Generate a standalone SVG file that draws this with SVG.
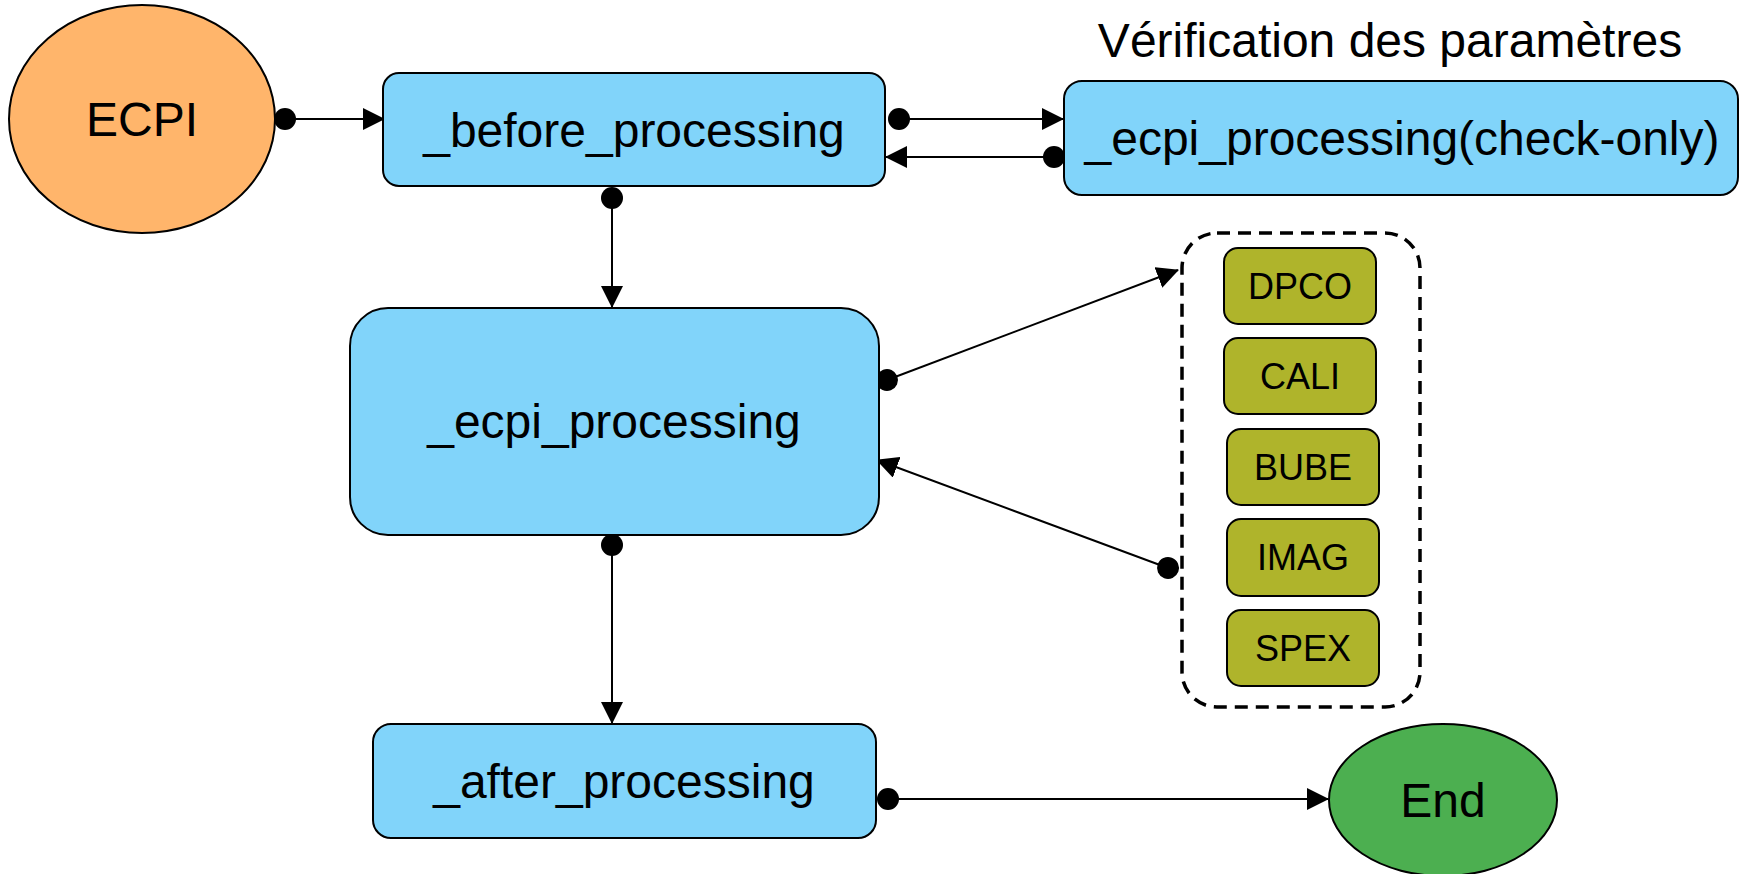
<svg xmlns="http://www.w3.org/2000/svg" width="1739" height="874" viewBox="0 0 1739 874">
  <style>
    text { font-family: "Liberation Sans", Arial, sans-serif; fill: #000; text-anchor: middle; }
    .big { font-size: 48px; }
    .small { font-size: 36px; }
    .proc { fill: #81D4FA; stroke: #000; stroke-width: 2; }
    .mod { fill: #AFB42B; stroke: #000; stroke-width: 2; }
    .edge { fill: none; stroke: #000; stroke-width: 2; marker-start: url(#dot); marker-end: url(#arrow); }
  </style>
  <defs>
    <marker id="arrow" markerUnits="userSpaceOnUse" markerWidth="22" markerHeight="22" refX="21" refY="11" orient="auto">
      <path d="M0,0 L22,11 L0,22 Z" fill="#000"/>
    </marker>
    <marker id="dot" markerUnits="userSpaceOnUse" markerWidth="24" markerHeight="24" refX="12" refY="12" orient="auto">
      <circle cx="12" cy="12" r="11" fill="#000"/>
    </marker>
  </defs>

  <rect width="1739" height="874" fill="#fff"/>

  <!-- connectors -->
  <g id="connectors">
    <path class="edge" d="M285,119 L384,119"/>
    <path class="edge" d="M899,119 L1063,119"/>
    <path class="edge" d="M1054,157 L886,157"/>
    <path class="edge" d="M612,198 L612,307"/>
    <path class="edge" d="M887,380 L1178,270"/>
    <path class="edge" d="M1168,568 L877,460"/>
    <path class="edge" d="M612,545 L612,723"/>
    <path class="edge" d="M888,799 L1328,799"/>
  </g>

  <g id="ecpi">
    <ellipse cx="142" cy="119" rx="133" ry="114" fill="#FFB56B" stroke="#000" stroke-width="2"/>
    <text class="big" x="142" y="136">ECPI</text>
  </g>

  <g id="before_processing">
    <rect class="proc" x="383" y="73" width="502" height="113" rx="16"/>
    <text class="big" x="634" y="147">_before_processing</text>
  </g>

  <g id="check_only">
    <text class="big" x="1390" y="57">Vérification des paramètres</text>
    <rect class="proc" x="1064" y="81" width="674" height="114" rx="18"/>
    <text class="big" x="1402" y="155">_ecpi_processing(check-only)</text>
  </g>

  <g id="ecpi_processing">
    <rect class="proc" x="350" y="308" width="529" height="227" rx="38"/>
    <text class="big" x="614" y="438">_ecpi_processing</text>
  </g>

  <g id="modules">
    <rect x="1182" y="233" width="238" height="474" rx="35" fill="none" stroke="#000" stroke-width="3.5" stroke-dasharray="13,8"/>
    <g id="dpco">
      <rect class="mod" x="1224" y="248" width="152" height="76" rx="14"/>
      <text class="small" x="1300" y="299">DPCO</text>
    </g>
    <g id="cali">
      <rect class="mod" x="1224" y="338" width="152" height="76" rx="14"/>
      <text class="small" x="1300" y="389">CALI</text>
    </g>
    <g id="bube">
      <rect class="mod" x="1227" y="429" width="152" height="76" rx="14"/>
      <text class="small" x="1303" y="480">BUBE</text>
    </g>
    <g id="imag">
      <rect class="mod" x="1227" y="519" width="152" height="77" rx="14"/>
      <text class="small" x="1303" y="570">IMAG</text>
    </g>
    <g id="spex">
      <rect class="mod" x="1227" y="610" width="152" height="76" rx="14"/>
      <text class="small" x="1303" y="661">SPEX</text>
    </g>
  </g>

  <g id="after_processing">
    <rect class="proc" x="373" y="724" width="503" height="114" rx="18"/>
    <text class="big" x="624" y="798">_after_processing</text>
  </g>

  <g id="end">
    <ellipse cx="1443" cy="800" rx="114" ry="76" fill="#4CAF50" stroke="#000" stroke-width="2"/>
    <text class="big" x="1443" y="817">End</text>
  </g>
</svg>
